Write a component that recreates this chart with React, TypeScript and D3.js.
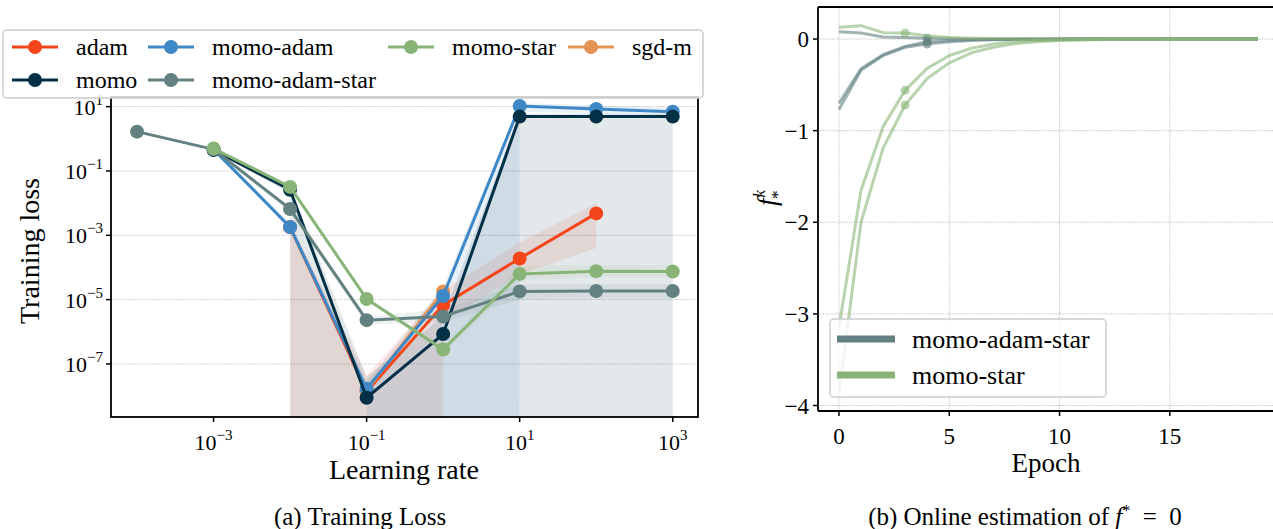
import React from 'react'
import * as d3 from 'd3'

// learning-rate sweep (panel a)
const adamLr = [1e-2, 1e-1, 1e0, 1e1, 1e2]
const adamLoss = [1.8e-3, 1.4e-8, 6.8e-6, 1.9e-4, 4.8e-3]
const adamLo = [0, 0, 2e-6, 6e-5, 4e-4]
const adamHi = [2.2e-3, 4.5e-8, 2e-5, 6e-4, 1e-2]

const sgdmLr = [1e-1, 1e0]
const sgdmLoss = [1.5e-8, 1.8e-5]
const sgdmLo = [1e-8, 1.2e-5]
const sgdmHi = [2.5e-8, 2.6e-5]

const momoAdamLr = [1e-3, 1e-2, 1e-1, 1e0, 1e1, 1e2, 1e3]
const momoAdamLoss = [0.47, 1.8e-3, 1.7e-8, 1.3e-5, 10.5, 8.5, 7]
const momoAdamLo = [0.44, 1.5e-3, 1e-8, 0, 7, 6, 5.5]
const momoAdamHi = [0.52, 2.4e-3, 3e-8, 2.5e-5, 13, 11, 9]

const momoLr = [1e-3, 1e-2, 1e-1, 1e0, 1e1, 1e2, 1e3]
const momoLoss = [0.45, 0.026, 8.9e-9, 8.5e-7, 4.9, 4.9, 4.9]
const momoLo = [0.42, 0.02, 0, 0, 0, 0, 0]
const momoHi = [0.5, 0.032, 4e-8, 3e-6, 6, 6, 6]

const momoAdamStarLr = [1e-4, 1e-3, 1e-2, 1e-1, 1e0, 1e1, 1e2, 1e3]
const momoAdamStarLoss = [1.67, 0.47, 6.6e-3, 2.3e-6, 3e-6, 1.8e-5, 1.85e-5, 1.85e-5]
const momoAdamStarLo = [1.5, 0.44, 5e-3, 1.7e-6, 2e-6, 1e-5, 1.1e-5, 1.1e-5]
const momoAdamStarHi = [1.8, 0.5, 8e-3, 3e-6, 5e-6, 3e-5, 3e-5, 3e-5]

const momoStarLr = [1e-3, 1e-2, 1e-1, 1e0, 1e1, 1e2, 1e3]
const momoStarLoss = [0.5, 0.032, 1.05e-5, 2.8e-7, 6.3e-5, 7.6e-5, 7.5e-5]
const momoStarLo = [0.47, 0.029, 9e-6, 2e-7, 4e-5, 5e-5, 5e-5]
const momoStarHi = [0.53, 0.036, 1.2e-5, 4e-7, 1.1e-4, 1.2e-4, 1.2e-4]

const lossTicks = [1e1, 1e-1, 1e-3, 1e-5, 1e-7]
const lossTickExp = ['1', '−1', '−3', '−5', '−7']
const lrTicks = [1e-3, 1e-1, 1e1, 1e3]
const lrTickExp = ['−3', '−1', '1', '3']

// online f* estimate (panel b), epochs 0..19
const epochs = d3.range(20)
const starUpper = [0.128, 0.146, 0.07, 0.066, 0.036, 0.018, 0.01, 0.005, 0.003, 0.002, 0.001, 0.0005, 0, 0, 0, 0, 0, 0, 0, 0]
const starLowA = [-3.15, -1.65, -0.956, -0.56, -0.32, -0.18, -0.1, -0.055, -0.03, -0.016, -0.009, -0.005, -0.003, -0.002, -0.001, 0, 0, 0, 0, 0]
const starLowB = [-3.87, -2.0, -1.19, -0.72, -0.43, -0.26, -0.15, -0.09, -0.05, -0.03, -0.016, -0.009, -0.005, -0.003, -0.002, -0.001, 0, 0, 0, 0]
const adamStarUpper = [0.08, 0.066, 0.022, 0.018, 0.01, 0.005, 0.002, 0.001, 0, 0, 0, 0, 0, 0, 0, 0, 0, 0, 0, 0]
const adamStarLowA = [-0.7, -0.325, -0.17, -0.08, -0.03, -0.015, -0.008, -0.004, -0.002, -0.001, 0, 0, 0, 0, 0, 0, 0, 0, 0, 0]
const adamStarLowB = [-0.77, -0.34, -0.18, -0.09, -0.055, -0.03, -0.015, -0.008, -0.004, -0.002, -0.001, 0, 0, 0, 0, 0, 0, 0, 0, 0]
const starMarkEpoch = 3
const adamStarMarkEpoch = 4
const epochTicks = [0, 5, 10, 15]
const fTicks = [0, -1, -2, -3, -4]

const colors = {
  adam: '#f4461a',
  momo: '#023047',
  momoAdam: '#3f88c8',
  momoAdamStar: '#638180',
  momoStar: '#88b577',
  sgdm: '#e59355',
}

const font = '"Liberation Serif", "DejaVu Serif", serif'

// draw order (legend order is separate)
const series = [
  { name: 'adam', color: colors.adam, lr: adamLr, loss: adamLoss, lo: adamLo, hi: adamHi },
  { name: 'sgd-m', color: colors.sgdm, lr: sgdmLr, loss: sgdmLoss, lo: sgdmLo, hi: sgdmHi },
  { name: 'momo-adam', color: colors.momoAdam, lr: momoAdamLr, loss: momoAdamLoss, lo: momoAdamLo, hi: momoAdamHi },
  { name: 'momo', color: colors.momo, lr: momoLr, loss: momoLoss, lo: momoLo, hi: momoHi },
  { name: 'momo-adam-star', color: colors.momoAdamStar, lr: momoAdamStarLr, loss: momoAdamStarLoss, lo: momoAdamStarLo, hi: momoAdamStarHi },
  { name: 'momo-star', color: colors.momoStar, lr: momoStarLr, loss: momoStarLoss, lo: momoStarLo, hi: momoStarHi },
]

const legendCols = [
  [['adam', colors.adam], ['momo', colors.momo]],
  [['momo-adam', colors.momoAdam], ['momo-adam-star', colors.momoAdamStar]],
  [['momo-star', colors.momoStar]],
  [['sgd-m', colors.sgdm]],
]
const legendColX = [35, 171, 411, 591]

const A = { left: 111, right: 698, top: 97, bottom: 417 }
const B = { left: 818, right: 1279, top: 7, bottom: 411 }

export default function App() {
  const x = d3.scaleLog().domain([10 ** -4.34, 10 ** 3.33]).range([A.left, A.right])
  const y = d3.scaleLog().domain([10 ** -8.65, 10 ** 1.3]).range([A.bottom, A.top])
  const xb = d3.scaleLinear().domain([-0.95, 19.95]).range([B.left, B.right])
  const yb = d3.scaleLinear().domain([-4.06, 0.35]).range([B.bottom, B.top])

  const line = d3.line<[number, number]>().x(d => x(d[0])).y(d => y(d[1]))
  const band = d3
    .area<[number, number, number]>()
    .x(d => x(d[0]))
    .y0(d => (d[1] > 0 ? y(d[1]) : 100000))
    .y1(d => y(d[2]))
  const fLine = d3.line<number>().x((_, i) => xb(epochs[i])).y(d => yb(d))

  const fSeries = [
    { color: colors.momoAdamStar, runs: [adamStarUpper, adamStarLowA, adamStarLowB], mark: adamStarMarkEpoch },
    { color: colors.momoStar, runs: [starUpper, starLowA, starLowB], mark: starMarkEpoch },
  ]

  return (
    <div style={{ position: 'fixed', left: 0, top: 0 }}>
      <svg width={1273} height={529} style={{ display: 'block', fontFamily: font }}>
        <defs>
          <clipPath id="clipA">
            <rect x={A.left} y={A.top} width={A.right - A.left} height={A.bottom - A.top} />
          </clipPath>
          <clipPath id="clipB">
            <rect x={B.left} y={B.top} width={B.right - B.left} height={B.bottom - B.top} />
          </clipPath>
        </defs>
        <rect width={1273} height={529} fill="#fff" />

        {/* ---------- panel a ---------- */}
        {lossTicks.map(t => (
          <line key={'gy' + t} x1={A.left} x2={A.right} y1={y(t)} y2={y(t)} stroke="#b0b0b0" strokeWidth={0.8} strokeDasharray="1.2,1.2" />
        ))}
        <g clipPath="url(#clipA)">
          {series.map(s => (
            <path
              key={'band' + s.name}
              d={band(s.lr.map((v, i) => [v, s.lo[i], s.hi[i]]) as any) || ''}
              fill={s.color}
              fillOpacity={0.11}
              stroke="none"
            />
          ))}
          {series.map(s => (
            <g key={'ln' + s.name}>
              <path d={line(s.lr.map((v, i) => [v, s.loss[i]]) as any) || ''} fill="none" stroke={s.color} strokeWidth={3} strokeLinejoin="round" />
              {s.lr.map((v, i) => (
                <circle key={i} cx={x(v)} cy={y(s.loss[i])} r={7} fill={s.color} />
              ))}
            </g>
          ))}
        </g>
        <rect x={A.left} y={A.top} width={A.right - A.left} height={A.bottom - A.top} fill="none" stroke="#000" strokeWidth={1.8} />
        {lossTicks.map((t, i) => (
          <g key={'ty' + t}>
            <line x1={A.left - 5} x2={A.left} y1={y(t)} y2={y(t)} stroke="#000" strokeWidth={1.5} />
            <text x={A.left - 8} y={y(t) + 8} textAnchor="end" fontSize={22}>
              10<tspan dy={-10} fontSize={15}>{lossTickExp[i]}</tspan>
            </text>
          </g>
        ))}
        {lrTicks.map((t, i) => (
          <g key={'tx' + t}>
            <line x1={x(t)} x2={x(t)} y1={A.bottom} y2={A.bottom + 5} stroke="#000" strokeWidth={1.5} />
            <text x={x(t)} y={A.bottom + 33} textAnchor="middle" fontSize={22}>
              10<tspan dy={-10} fontSize={15}>{lrTickExp[i]}</tspan>
            </text>
          </g>
        ))}
        <text x={404} y={479} textAnchor="middle" fontSize={28}>Learning rate</text>
        <text transform="translate(39,251) rotate(-90)" textAnchor="middle" fontSize={28}>Training loss</text>

        {/* legend a */}
        <rect x={3} y={30} width={700} height={68} rx={4} fill="#fff" fillOpacity={0.8} stroke="#cccccc" strokeWidth={1.5} />
        {legendCols.map((col, ci) =>
          col.map(([name, c], ri) => {
            const cx = legendColX[ci]
            const cy = 47 + ri * 33
            return (
              <g key={name}>
                <line x1={cx - 23} x2={cx + 23} y1={cy} y2={cy} stroke={c} strokeWidth={3} />
                <circle cx={cx} cy={cy} r={7} fill={c} />
                <text x={cx + 41} y={cy + 8} fontSize={24}>{name}</text>
              </g>
            )
          })
        )}

        {/* ---------- panel b ---------- */}
        {fTicks.map(t => (
          <line key={'gfy' + t} x1={B.left} x2={B.right} y1={yb(t)} y2={yb(t)} stroke="#b0b0b0" strokeWidth={0.8} strokeDasharray="1.2,1.2" />
        ))}
        {epochTicks.map(t => (
          <line key={'gfx' + t} x1={xb(t)} x2={xb(t)} y1={B.top} y2={B.bottom} stroke="#b0b0b0" strokeWidth={0.8} strokeDasharray="1.2,1.2" />
        ))}
        <g clipPath="url(#clipB)">
          {fSeries.map((s, si) => (
            <g key={'f' + si}>
              {s.runs.map((r, ri) => (
                <path key={ri} d={fLine(r) || ''} fill="none" stroke={s.color} strokeOpacity={0.6} strokeWidth={3} strokeLinejoin="round" />
              ))}
              {s.runs.map((r, ri) => (
                <circle key={'m' + ri} cx={xb(s.mark)} cy={yb(r[s.mark])} r={4.5} fill={s.color} fillOpacity={0.6} />
              ))}
            </g>
          ))}
        </g>
        <line x1={B.left} x2={B.left} y1={B.top} y2={B.bottom} stroke="#000" strokeWidth={1.8} />
        <line x1={B.left} x2={B.right} y1={B.top} y2={B.top} stroke="#000" strokeWidth={1.8} />
        <line x1={B.left} x2={B.right} y1={B.bottom} y2={B.bottom} stroke="#000" strokeWidth={1.8} />
        {fTicks.map(t => (
          <g key={'tfy' + t}>
            <line x1={B.left - 5} x2={B.left} y1={yb(t)} y2={yb(t)} stroke="#000" strokeWidth={1.5} />
            <text x={B.left - 9} y={yb(t) + 8} textAnchor="end" fontSize={23}>{t < 0 ? '−' + Math.abs(t) : t}</text>
          </g>
        ))}
        {epochTicks.map(t => (
          <g key={'tfx' + t}>
            <line x1={xb(t)} x2={xb(t)} y1={B.bottom} y2={B.bottom + 5} stroke="#000" strokeWidth={1.5} />
            <text x={xb(t)} y={B.bottom + 33} textAnchor="middle" fontSize={23}>{t}</text>
          </g>
        ))}
        <text x={1046} y={472} textAnchor="middle" fontSize={27}>Epoch</text>
        <text transform="translate(776,198) rotate(-90)" textAnchor="middle" fontSize={27}>
          <tspan fontStyle="italic">f</tspan>
          <tspan dx={1} dy={-11} fontSize={17} fontStyle="italic">k</tspan>
          <tspan dx={-9} dy={18} fontSize={17}>*</tspan>
        </text>

        {/* legend b */}
        <rect x={830} y={319} width={276} height={78} rx={4} fill="#fff" fillOpacity={0.8} stroke="#cccccc" strokeWidth={1.5} />
        {[['momo-adam-star', colors.momoAdamStar], ['momo-star', colors.momoStar]].map(([name, c], i) => (
          <g key={'lb' + name}>
            <line x1={837} x2={895} y1={339 + i * 36} y2={339 + i * 36} stroke={c} strokeWidth={7} />
            <text x={912} y={348 + i * 36} fontSize={26}>{name}</text>
          </g>
        ))}

        {/* captions */}
        <text x={360} y={525} textAnchor="middle" fontSize={25}>(a) Training Loss</text>
        <text x={1025} y={525} textAnchor="middle" fontSize={25} style={{ whiteSpace: 'pre' }}>
          (b) Online estimation of <tspan fontStyle="italic">f</tspan>
          <tspan dy={-9} fontSize={16}>*</tspan>
          <tspan dy={9}>{'  =  0'}</tspan>
        </text>
      </svg>
    </div>
  )
}
